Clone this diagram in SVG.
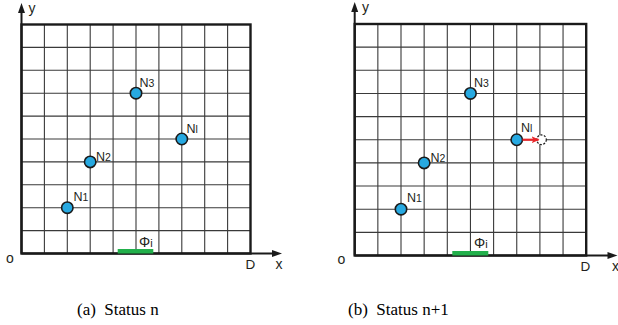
<svg xmlns="http://www.w3.org/2000/svg" width="618" height="325" viewBox="0 0 618 325">
<defs>
<style>
.grid{stroke:#3a3a3a;stroke-width:1.1;fill:none}
.border{stroke:#1a1a1a;stroke-width:2.4;fill:none}
.axis{stroke:#1a1a1a;stroke-width:2;fill:none}
.head{fill:#1a1a1a}
.node{fill:#27a9e1;stroke:#1a1a1a;stroke-width:1.6}
.lbl{font-family:"Liberation Sans",Arial,sans-serif;font-size:12.5px;fill:#231f20}
.sub{font-size:10.5px}
.cap{font-family:"Liberation Serif","Times New Roman",serif;font-size:17px;fill:#000}
.bar{fill:#22b04b}
</style>
<marker id="redhead" markerWidth="8" markerHeight="8" refX="7" refY="4" orient="auto" markerUnits="userSpaceOnUse">
<path d="M0,0.5 L8,4 L0,7.5 L2,4 Z" fill="#e8262a"/>
</marker>
</defs>

<!-- Panel (a) -->
<g id="panel-a">
<g id="grid-a" class="grid">
<path d="M44.4,24.5V253.5M67.3,24.5V253.5M90.2,24.5V253.5M113.1,24.5V253.5M136,24.5V253.5M158.9,24.5V253.5M181.8,24.5V253.5M204.7,24.5V253.5M227.6,24.5V253.5"/>
<path d="M21.5,47.4H250.5M21.5,70.3H250.5M21.5,93.2H250.5M21.5,116.1H250.5M21.5,139H250.5M21.5,161.9H250.5M21.5,184.8H250.5M21.5,207.7H250.5M21.5,230.6H250.5"/>
</g>
<rect class="border" x="21.5" y="24.5" width="229" height="229"/>
<g id="axes-a">
<path class="axis" d="M21.5,253.5V12M21.5,253.5H273"/>
<path class="head" d="M21.5,3 L25,13 L18,13 Z"/>
<path class="head" d="M282,253.5 L272,250 L272,257 Z"/>
<text class="lbl" x="28.5" y="13" style="font-size:14px">y</text>
<text class="lbl" x="275.5" y="269" style="font-size:14px">x</text>
<text class="lbl" x="245.5" y="269" style="font-size:13.5px">D</text>
<text class="lbl" x="6" y="262.5" style="font-size:14px">o</text>
</g>
<g id="phi-a">
<rect class="bar" x="117.7" y="249" width="35.6" height="4.5"/>
<text class="lbl" x="139" y="246.5" style="font-size:14px">Φ<tspan class="sub" dy="0.5" style="font-size:11px">i</tspan></text>
</g>
<g id="a-N1"><circle class="node" cx="67.3" cy="207.7" r="5.7"/><text class="lbl" x="73.5" y="200.5">N<tspan class="sub">1</tspan></text></g>
<g id="a-N2"><circle class="node" cx="90.2" cy="161.9" r="5.7"/><text class="lbl" x="96" y="161">N<tspan class="sub">2</tspan></text></g>
<g id="a-N3"><circle class="node" cx="136" cy="93.2" r="5.7"/><text class="lbl" x="139.5" y="86.5">N<tspan class="sub">3</tspan></text></g>
<g id="a-Nl"><circle class="node" cx="181.8" cy="139" r="5.7"/><text class="lbl" x="186.5" y="132.5">N<tspan class="sub">l</tspan></text></g>
</g>

<!-- Panel (b) -->
<g id="panel-b">
<g id="grid-b" class="grid">
<path d="M377.85,24V255.5M401,24V255.5M424.15,24V255.5M447.3,24V255.5M470.45,24V255.5M493.6,24V255.5M516.75,24V255.5M539.9,24V255.5M563.05,24V255.5"/>
<path d="M354.7,47.15H586.2M354.7,70.3H586.2M354.7,93.45H586.2M354.7,116.6H586.2M354.7,139.75H586.2M354.7,162.9H586.2M354.7,186.05H586.2M354.7,209.2H586.2M354.7,232.35H586.2"/>
</g>
<rect class="border" x="354.7" y="24" width="231.5" height="231.5"/>
<g id="axes-b">
<path class="axis" d="M354.7,255.5V11M354.7,255.5H608"/>
<path class="head" d="M354.7,2 L358.2,12 L351.2,12 Z"/>
<path class="head" d="M617.5,255.5 L607.5,252 L607.5,259 Z"/>
<text class="lbl" x="362" y="12" style="font-size:14px">y</text>
<text class="lbl" x="612" y="271" style="font-size:14px">x</text>
<text class="lbl" x="580.5" y="271" style="font-size:13.5px">D</text>
<text class="lbl" x="337.5" y="264" style="font-size:14px">o</text>
</g>
<g id="phi-b">
<rect class="bar" x="452.3" y="251" width="36" height="4.5"/>
<text class="lbl" x="474" y="247.5" style="font-size:14px">Φ<tspan class="sub" dy="0.5" style="font-size:11px">i</tspan></text>
</g>
<g id="b-N1"><circle class="node" cx="401" cy="209.2" r="5.7"/><text class="lbl" x="407" y="202">N<tspan class="sub">1</tspan></text></g>
<g id="b-N2"><circle class="node" cx="424.15" cy="162.9" r="5.7"/><text class="lbl" x="430.5" y="161.5">N<tspan class="sub">2</tspan></text></g>
<g id="b-N3"><circle class="node" cx="470.45" cy="93.45" r="5.7"/><text class="lbl" x="474" y="86.5">N<tspan class="sub">3</tspan></text></g>
<g id="b-Nl"><circle class="node" cx="516.75" cy="139.75" r="5.7"/><text class="lbl" x="521" y="132">N<tspan class="sub">l</tspan></text></g>
<g id="b-Nl-next"><circle cx="541.5" cy="139.75" r="4.8" fill="#fff" stroke="#1a1a1a" stroke-width="1.2" stroke-dasharray="2,1.5"/></g>
</g>

<g id="connectors">
<line x1="522.5" y1="139.75" x2="538.5" y2="139.75" stroke="#e8262a" stroke-width="2.2" marker-end="url(#redhead)"/>
</g>

<g id="captions">
<text class="cap" x="77" y="315" xml:space="preserve">(a)  Status n</text>
<text class="cap" x="348" y="315" xml:space="preserve">(b)  Status n+1</text>
</g>
</svg>
